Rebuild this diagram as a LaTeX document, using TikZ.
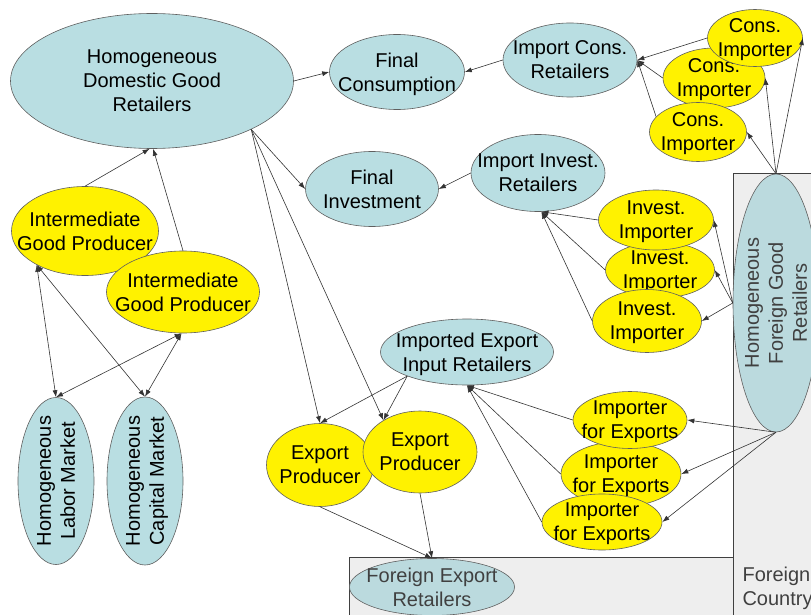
\documentclass[tikz,border=0pt]{standalone}
\usepackage{fontspec}
\setmainfont{Liberation Sans}
\usetikzlibrary{shapes.geometric,arrows.meta}
\definecolor{retblue}{RGB}{185,222,226}
\definecolor{forblue}{RGB}{187,218,222}
\definecolor{boxgray}{RGB}{238,238,238}
\definecolor{rimgray}{RGB}{95,95,95}
\begin{document}
\begin{tikzpicture}[x=1pt,y=-1pt,
  bub/.style={ellipse,draw=rimgray,line width=0.6pt,inner sep=-30pt,align=center,
    text depth=0pt,font=\fontsize{20}{24}\selectfont},
  ret/.style={bub,fill=retblue},
  forret/.style={bub,fill=forblue,text=black!75},
  prod/.style={bub,fill=yellow},
  arr/.style={draw=black!80,line width=0.6pt,-{Latex[length=7pt,width=5pt]}},
  dbl/.style={arr,{Latex[length=7pt,width=5pt]}-{Latex[length=7pt,width=5pt]}},
  region/.style={draw=black!75,line width=0.6pt,fill=boxgray}]
\useasboundingbox (0,0) rectangle (811,615);
% foreign country
\draw[region] (733,173) rectangle (825,625);
\draw[region] (349,557) rectangle (733,625);
\node (cntry) at (739,588) [anchor=west,align=left,text=black!75,font=\fontsize{20}{24}\selectfont] {Foreign\\Country};
% domestic side
\node (dom) at (152,81) [ret,minimum width=283pt,minimum height=135pt] {Homogeneous\\Domestic Good\\Retailers};
\node (fcons) at (397,72) [ret,minimum width=135pt,minimum height=75pt] {Final\\Consumption};
\node (fi) at (372,189) [ret,minimum width=133pt,minimum height=75pt] {Final\\Investment};
\node (igp1) at (85,231) [prod,minimum width=147pt,minimum height=89pt] {Intermediate\\Good Producer};
\node (igp2) at (183,292) [prod,minimum width=153pt,minimum height=82pt] {Intermediate\\Good Producer};
\node (lab) at (56,481) [ret,rotate=90,minimum width=167pt,minimum height=76pt] {Homogeneous\\Labor Market};
\node (cap) at (145,481) [ret,rotate=90,minimum width=168pt,minimum height=76pt] {Homogeneous\\Capital Market};
% importers
\node (icr) at (570,60) [ret,minimum width=134pt,minimum height=74pt] {Import Cons.\\Retailers};
\node (ci2) at (714,78) [prod,minimum width=102pt,minimum height=60pt] {Cons.\\Importer};
\node (ci1) at (755,38) [prod,minimum width=95pt,minimum height=57pt] {Cons.\\Importer};
\node (ci3) at (698,132) [prod,minimum width=97pt,minimum height=59pt] {Cons.\\Importer};
\node (iir) at (538,173) [ret,minimum width=134pt,minimum height=77pt] {Import Invest.\\Retailers};
\node (ii2) at (660,270) [prod,minimum width=109pt,minimum height=56pt] {Invest.\\Importer};
\node (ii1) at (656,220) [prod,minimum width=115pt,minimum height=60pt] {Invest.\\Importer};
\node (ii3) at (647,321) [prod,minimum width=109pt,minimum height=63pt] {Invest.\\Importer};
\node (fgr) at (776,303) [forret,rotate=90,minimum width=258pt,minimum height=86pt] {Homogeneous\\Foreign Good\\Retailers};
% exports
\node (ieir) at (467,352) [ret,minimum width=173pt,minimum height=66pt] {Imported Export\\Input Retailers};
\node (ep1) at (320,465) [prod,minimum width=107pt,minimum height=83pt] {Export\\Producer};
\node (ep2) at (420,452) [prod,minimum width=114pt,minimum height=82pt] {Export\\Producer};
\node (ife2) at (621,474) [prod,minimum width=120pt,minimum height=65pt] {Importer\\for Exports};
\node (ife1) at (630,420) [prod,minimum width=114pt,minimum height=57pt] {Importer\\for Exports};
\node (ife3) at (602,522) [prod,minimum width=120pt,minimum height=56pt] {Importer\\for Exports};
\node (fer) at (432,587) [forret,minimum width=165pt,minimum height=57pt] {Foreign Export\\Retailers};
% flows
\draw[arr] (dom.east) -- (fcons.west);
\draw[arr] (icr.west) -- (fcons.east);
\draw[arr] (ci1.west) -- (icr.east);
\draw[arr] (ci2.west) -- (icr.east);
\draw[arr] (ci3.160) -- (icr.east);
\draw[arr] (fgr.east) -- (ci1.east);
\draw[arr] (fgr.east) -- (ci2.east);
\draw[arr] (fgr.east) -- (ci3.east);
\draw[arr] (iir.west) -- (fi.east);
\draw[arr] (ii1.west) -- (iir.-85);
\draw[arr] (ii2.west) -- (iir.-85);
\draw[arr] (ii3.west) -- (iir.-85);
\draw[arr] (fgr.north) -- (ii1.east);
\draw[arr] (fgr.north) -- (ii2.east);
\draw[arr] (fgr.north) -- (ii3.east);
\draw[arr] (fgr.west) -- (ife1.east);
\draw[arr] (fgr.west) -- (ife2.east);
\draw[arr] (fgr.west) -- (ife3.east);
\draw[arr] (ife1.west) -- (ieir.south);
\draw[arr] (ife2.west) -- (ieir.south);
\draw[arr] (ife3.west) -- (ieir.south);
\draw[arr] (ieir.202) -- (ep1.north);
\draw[arr] (ieir.202) -- (ep2.139);
\draw[arr] (dom.-26) -- (fi.west);
\draw[arr] (dom.-26) -- (ep1.north);
\draw[arr] (dom.-26) -- (ep2.139);
\draw[arr] (ep1.south) -- (fer.north);
\draw[arr] (ep2.south) -- (fer.north);
\draw[arr] (igp1.north) -- (dom.-92);
\draw[arr] (igp2.north) -- (dom.-89);
\draw[dbl] (igp1.215) -- (lab.east);
\draw[dbl] (igp1.215) -- (cap.east);
\draw[dbl] (igp2.-92) -- (lab.east);
\draw[dbl] (igp2.-92) -- (cap.east);
\end{tikzpicture}
\end{document}
